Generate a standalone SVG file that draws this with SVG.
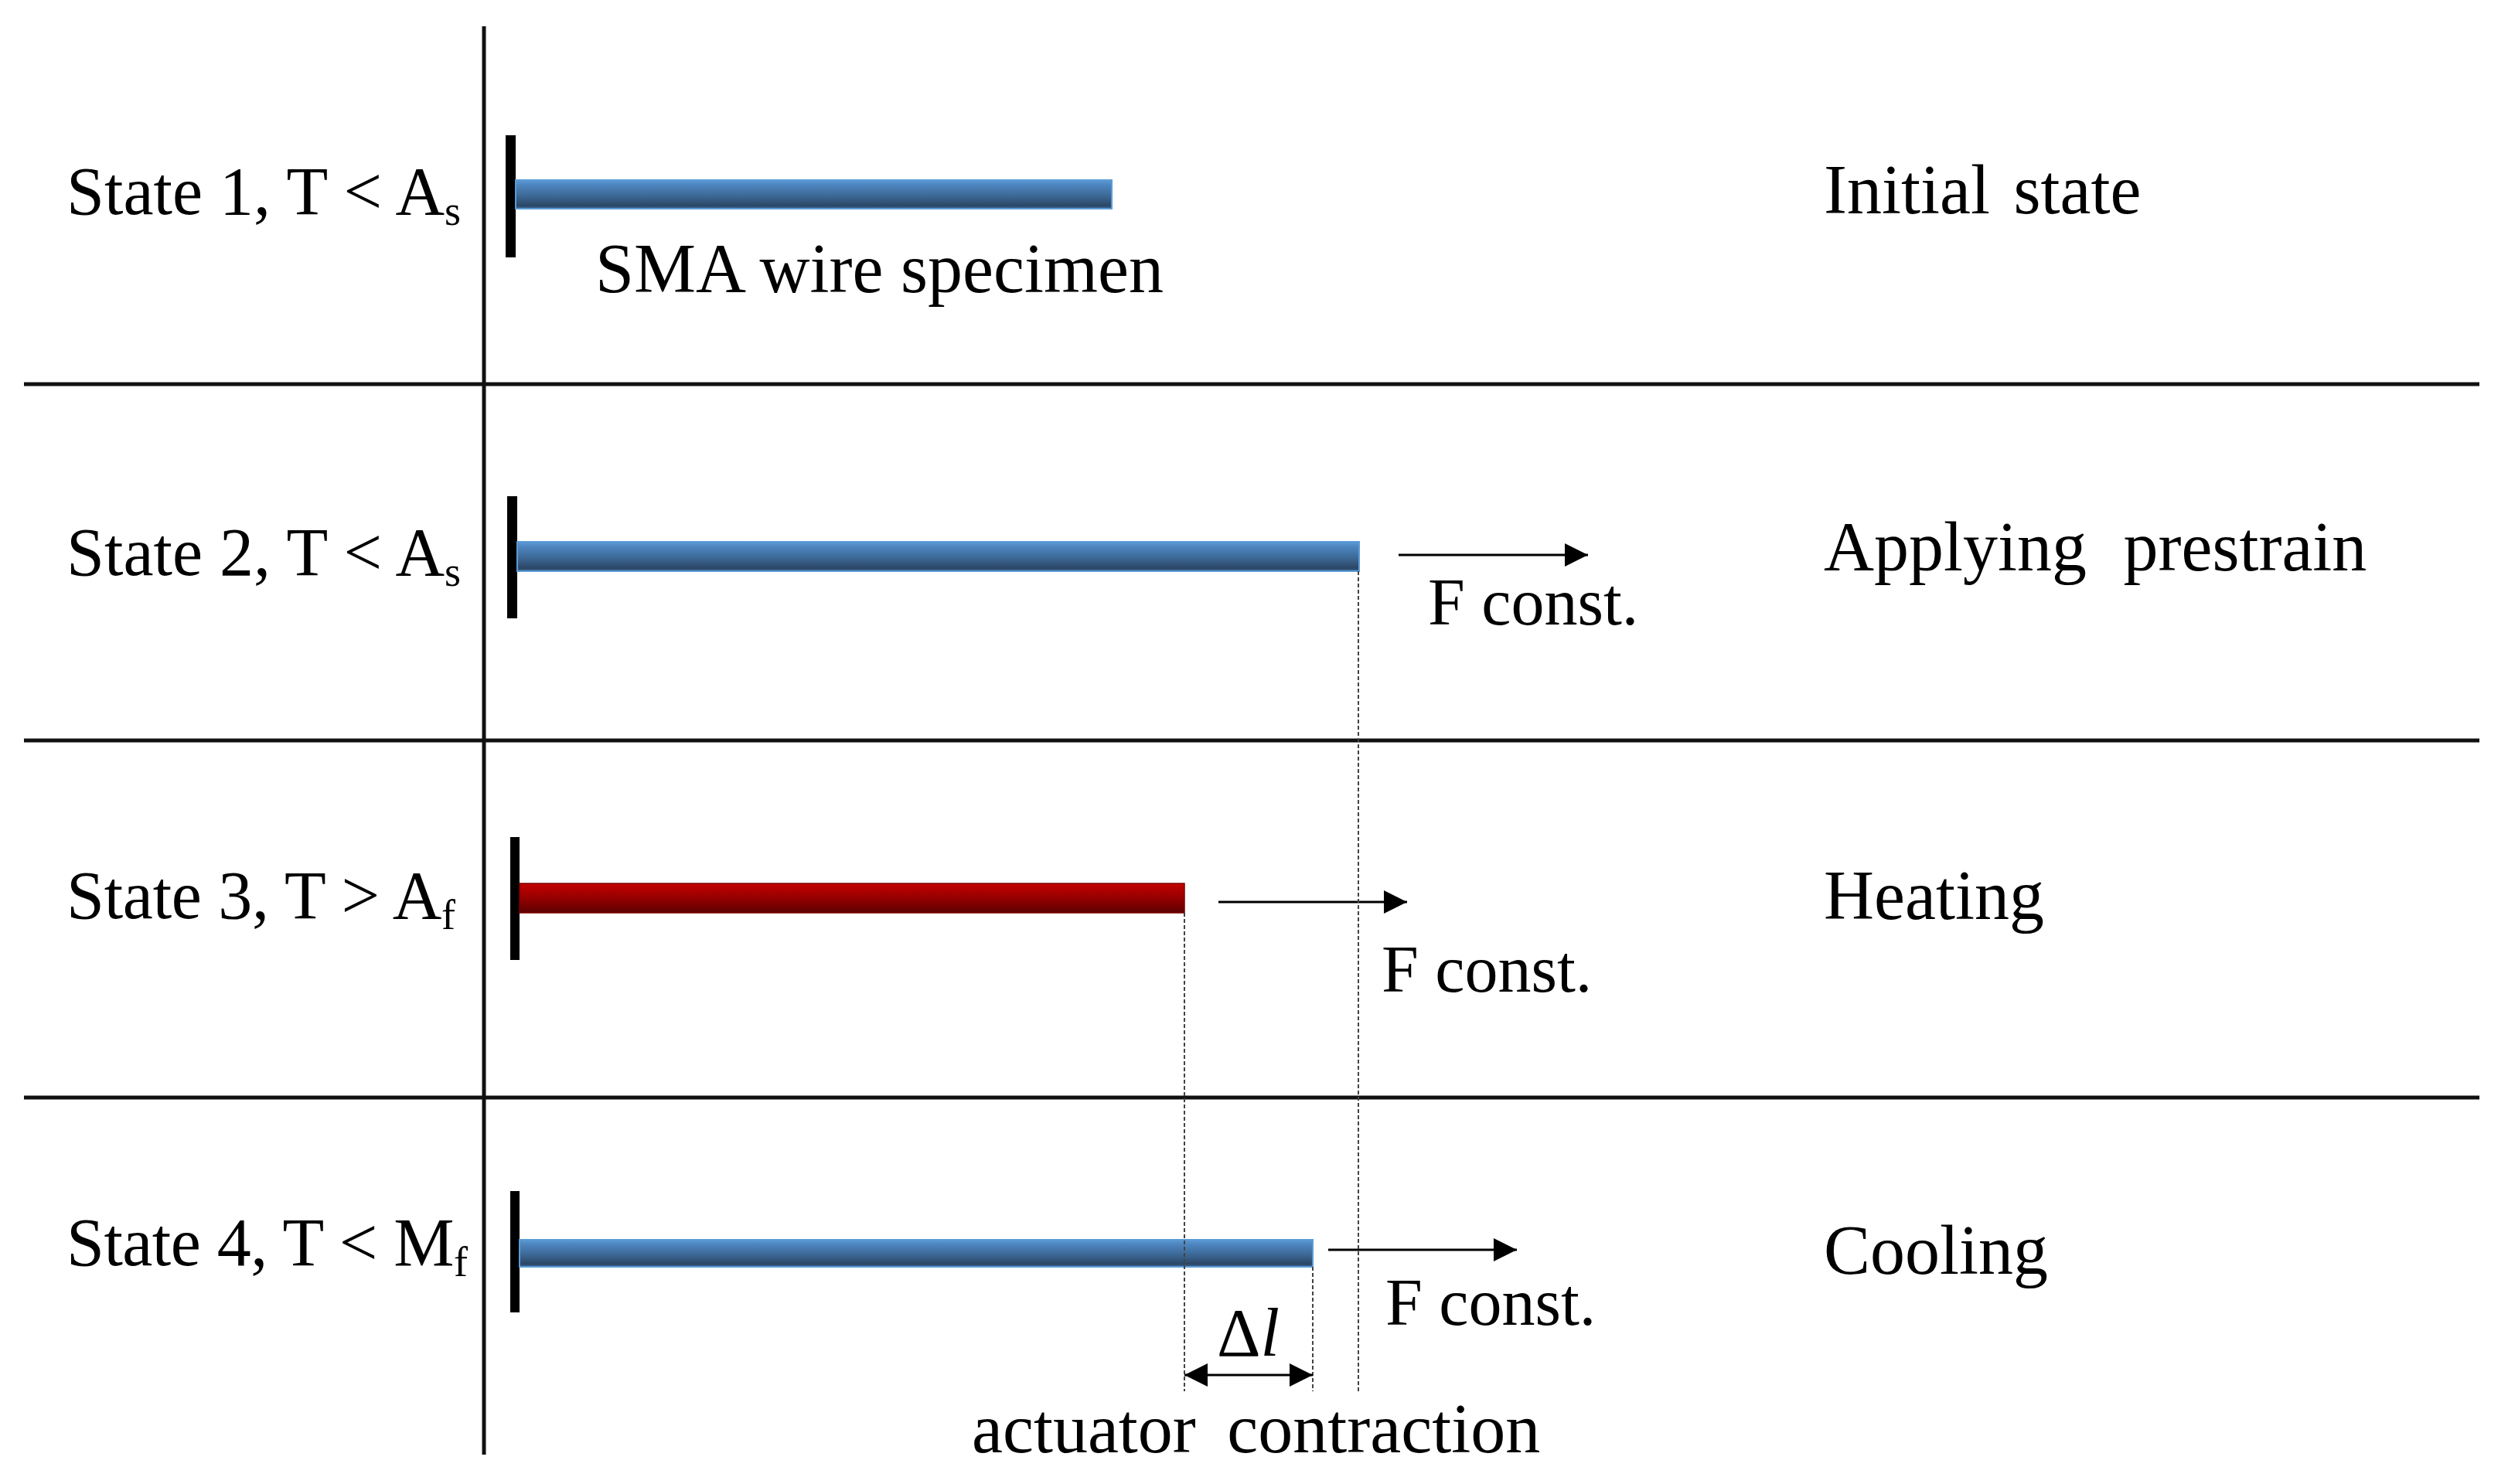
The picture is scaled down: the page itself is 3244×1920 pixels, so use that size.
<svg xmlns="http://www.w3.org/2000/svg" width="3244" height="1920" viewBox="0 0 3244 1920">
  <style>
    .t { font-family: "Liberation Serif", "Times New Roman", serif; fill: #000; }
    .lbl { font-size: 88px; }
    .rt { font-size: 90px; }
    .fc { font-size: 86px; }
    .grid { stroke: #111; stroke-width: 5; fill: none; }
    .wall { fill: #000; }
    .wireB { fill: url(#blueG); stroke: #5b9bd5; stroke-width: 2; }
    .wireR { fill: url(#redG); stroke: #7a0000; stroke-width: 1.5; }
    .force { stroke: #000; stroke-width: 3; fill: none; marker-end: url(#ah); }
    .dot { stroke: #444; stroke-width: 2; stroke-dasharray: 5 3; fill: none; }
  </style>
  <defs>
    <linearGradient id="blueG" x1="0" y1="0" x2="0" y2="1">
      <stop offset="0" stop-color="#5b9bd5"/>
      <stop offset="0.15" stop-color="#4f87c2"/>
      <stop offset="0.55" stop-color="#3c6896"/>
      <stop offset="0.9" stop-color="#2c4665"/>
      <stop offset="1" stop-color="#3e6c9e"/>
    </linearGradient>
    <linearGradient id="redG" x1="0" y1="0" x2="0" y2="1">
      <stop offset="0" stop-color="#c40000"/>
      <stop offset="0.5" stop-color="#960000"/>
      <stop offset="1" stop-color="#5c0000"/>
    </linearGradient>
    <marker id="ah" viewBox="0 0 10 10" markerWidth="10.3" markerHeight="10" refX="10" refY="5" orient="auto-start-reverse" markerUnits="strokeWidth">
      <path d="M0,0 L10,5 L0,10 z" fill="#000"/>
    </marker>
  </defs>
  <rect width="3244" height="1920" fill="#fff"/>

  <g id="grid">
    <line class="grid" x1="626" y1="34" x2="626" y2="1882"/>
    <line class="grid" x1="31" y1="497" x2="3207" y2="497"/>
    <line class="grid" x1="31" y1="958" x2="3207" y2="958"/>
    <line class="grid" x1="31" y1="1420" x2="3207" y2="1420"/>
  </g>

  <g id="state1">
    <text class="t lbl" x="86" y="277" textLength="510" lengthAdjust="spacing">State 1, T &lt; A<tspan font-size="54" dy="14">s</tspan></text>
    <rect class="wall" x="654" y="175" width="13" height="158"/>
    <rect class="wireB" x="667" y="233" width="771" height="37"/>
    <text class="t rt" x="770" y="378">SMA wire specimen</text>
    <text class="t rt" x="2359" y="276" word-spacing="8">Initial state</text>
  </g>

  <g id="state2">
    <text class="t lbl" x="86" y="744" textLength="510" lengthAdjust="spacing">State 2, T &lt; A<tspan font-size="54" dy="14">s</tspan></text>
    <rect class="wall" x="656" y="642" width="13" height="158"/>
    <rect class="wireB" x="669" y="701" width="1089" height="38"/>
    <text class="t fc" x="1847" y="808">F const.</text>
    <text class="t rt" x="2359" y="738" word-spacing="25">Applying prestrain</text>
  </g>

  <g id="state3">
    <text class="t lbl" x="86" y="1188" textLength="503" lengthAdjust="spacing">State 3, T &gt; A<tspan font-size="54" dy="14">f</tspan></text>
    <rect class="wall" x="660" y="1083" width="12" height="159"/>
    <rect class="wireR" x="672" y="1143" width="860" height="38"/>
    <text class="t fc" x="1787" y="1283">F const.</text>
    <text class="t rt" x="2359" y="1189">Heating</text>
  </g>

  <g id="state4">
    <text class="t lbl" x="86" y="1637" textLength="519" lengthAdjust="spacing">State 4, T &lt; M<tspan font-size="54" dy="14">f</tspan></text>
    <rect class="wall" x="660" y="1541" width="12" height="157"/>
    <rect class="wireB" x="672" y="1604" width="1026" height="35"/>
    <text class="t fc" x="1792" y="1714">F const.</text>
    <text class="t rt" x="2359" y="1648">Cooling</text>
    <text class="t" font-size="88" x="1574" y="1754">Δ<tspan font-style="italic">l</tspan></text>
    <text class="t rt" x="1257" y="1879" word-spacing="18">actuator contraction</text>
  </g>

  <g id="connectors">
    <line class="force" x1="1809" y1="718" x2="2054" y2="718"/>
    <line class="force" x1="1576" y1="1167" x2="1820" y2="1167"/>
    <line class="force" x1="1718" y1="1617" x2="1962" y2="1617"/>
    <line class="dot" x1="1757" y1="739" x2="1757" y2="1800"/>
    <line class="dot" x1="1532" y1="1181" x2="1532" y2="1800"/>
    <line class="dot" x1="1698" y1="1639" x2="1698" y2="1800"/>
    <line stroke="#000" stroke-width="3" x1="1532" y1="1779" x2="1698" y2="1779" marker-start="url(#ah)" marker-end="url(#ah)"/>
  </g>
</svg>
